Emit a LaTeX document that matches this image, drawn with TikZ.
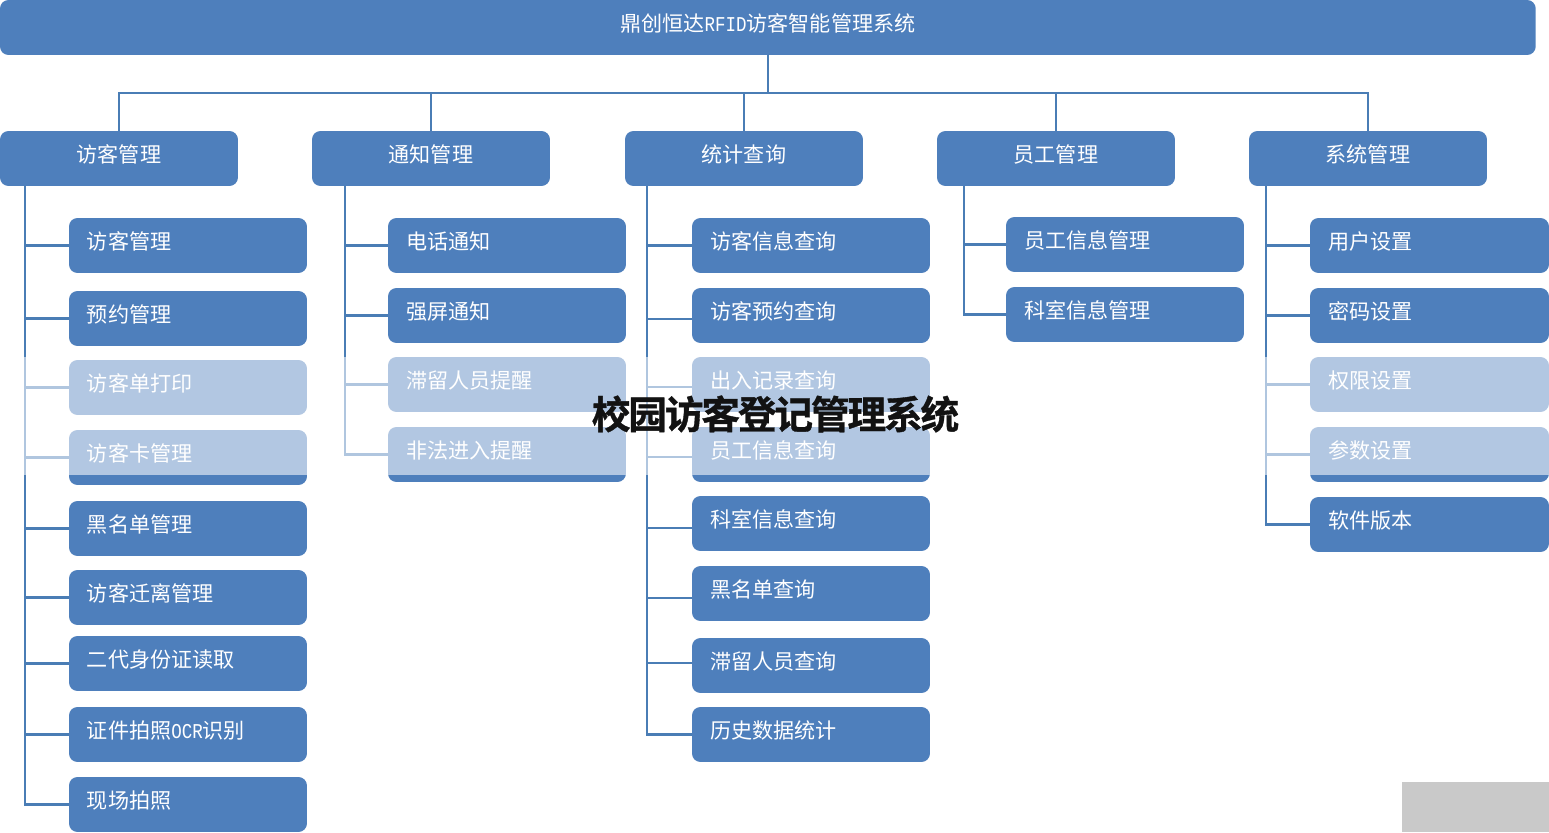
\documentclass[tikz,border=0pt]{standalone}
\usepackage{fontspec}
\setmainfont{Noto Sans CJK SC}
\newfontfamily\markfont[FakeBold=0.9, LetterSpace=-5.5]{Noto Sans CJK SC Bold}
\newfontfamily\halffont[FakeStretch=.83]{Liberation Mono}
\newcommand{\halfw}[1]{{\halffont\fontsize{12}{14}\selectfont #1}}

\definecolor{boxblue}{HTML}{4E7FBC}
\definecolor{linkblue}{HTML}{4A7DB5}

\tikzset{
  blockbox/.style={rectangle, fill=boxblue, text=white, rounded corners=.17cm,
    anchor=north west, outer sep=0pt, minimum height=1.1cm,
    text height=10pt, text depth=5pt, font=\fontsize{12}{14}\selectfont},
  topbox/.style={blockbox, minimum width=30.72cm, text width=30cm, align=center},
  groupbox/.style={blockbox, minimum width=4.76cm, text width=4cm, align=center},
  leafbox/.style={blockbox, minimum width=4.76cm, inner xsep=.36cm, text width=4.04cm, align=left},
  bus/.style={to path={-- ++(0,38) -| (\tikztotarget)}},
  elbow/.style={to path={|- (\tikztotarget)}}
}

\begin{document}
\begin{tikzpicture}[x=.02cm, y=-.02cm]

      \useasboundingbox (0,0) rectangle (1549,832);

      \node[topbox] (top) at (0,0) {鼎创恒达\halfw{RFID}访客智能管理系统};

      \begin{scope}[every node/.style={groupbox}]
        \node (g1) at (0,131)    {访客管理};
        \node (g2) at (312,131)  {通知管理};
        \node (g3) at (625,131)  {统计查询};
        \node (g4) at (937,131)  {员工管理};
        \node (g5) at (1249,131) {系统管理};
      \end{scope}

      \begin{scope}[every node/.style={leafbox}]
        \node (a1) at (69,218) {访客管理};
        \node (a2) at (69,291) {预约管理};
        \node (a3) at (69,360) {访客单打印};
        \node (a4) at (69,430) {访客卡管理};
        \node (a5) at (69,501) {黑名单管理};
        \node (a6) at (69,570) {访客迁离管理};
        \node (a7) at (69,636) {二代身份证读取};
        \node (a8) at (69,707) {证件拍照\halfw{OCR}识别};
        \node (a9) at (69,777) {现场拍照};

        \node (b1) at (388,218) {电话通知};
        \node (b2) at (388,288) {强屏通知};
        \node (b3) at (388,357) {滞留人员提醒};
        \node (b4) at (388,427) {非法进入提醒};

        \node (c1) at (692,218) {访客信息查询};
        \node (c2) at (692,288) {访客预约查询};
        \node (c3) at (692,357) {出入记录查询};
        \node (c4) at (692,427) {员工信息查询};
        \node (c5) at (692,496) {科室信息查询};
        \node (c6) at (692,566) {黑名单查询};
        \node (c7) at (692,638) {滞留人员查询};
        \node (c8) at (692,707) {历史数据统计};

        \node (d1) at (1006,217) {员工信息管理};
        \node (d2) at (1006,287) {科室信息管理};
      \end{scope}

      \begin{scope}[every node/.style={leafbox, minimum width=4.78cm, inner xsep=.37cm}]
        \node (e1) at (1310,218) {用户设置};
        \node (e2) at (1310,288) {密码设置};
        \node (e3) at (1310,357) {权限设置};
        \node (e4) at (1310,427) {参数设置};
        \node (e5) at (1310,497) {软件版本};
      \end{scope}

      \coordinate (ta) at (25,186);
      \coordinate (tb) at (345,186);
      \coordinate (tc) at (647,186);
      \coordinate (td) at (964,186);
      \coordinate (te) at (1266,186);

      \begin{scope}[every edge/.style={draw=linkblue, line width=1.3pt}]
        \path (top.south) edge[bus] (g1.north);
        \path (top.south) edge[bus] (g2.north);
        \path (top.south) edge[bus] (g3.north);
        \path (top.south) edge[bus] (g4.north);
        \path (top.south) edge[bus] (g5.north);

        \path (ta) edge[elbow] (a1.west);
        \path (ta) edge[elbow] (a2.west);
        \path (ta) edge[elbow] (a3.west);
        \path (ta) edge[elbow] (a4.west);
        \path (ta) edge[elbow] (a5.west);
        \path (ta) edge[elbow] (a6.west);
        \path (ta) edge[elbow] (a7.west);
        \path (ta) edge[elbow] (a8.west);
        \path (ta) edge[elbow] (a9.west);

        \path (tb) edge[elbow] (b1.west);
        \path (tb) edge[elbow] (b2.west);
        \path (tb) edge[elbow] (b3.west);
        \path (tb) edge[elbow] (b4.west);

        \path (tc) edge[elbow] (c1.west);
        \path (tc) edge[elbow] (c2.west |- 0,319);
        \path (tc) edge[elbow] (c3.west |- 0,387);
        \path (tc) edge[elbow] (c4.west |- 0,457);
        \path (tc) edge[elbow] (c5.west |- 0,528);
        \path (tc) edge[elbow] (c6.west |- 0,598);
        \path (tc) edge[elbow] (c7.west |- 0,663);
        \path (tc) edge[elbow] (c8.west);

        \path (td) edge[elbow] (d1.west);
        \path (td) edge[elbow] (d2.west);

        \path (te) edge[elbow] (e1.west);
        \path (te) edge[elbow] (e2.west);
        \path (te) edge[elbow] (e3.west);
        \path (te) edge[elbow] (e4.west);
        \path (te) edge[elbow] (e5.west);
      \end{scope}

      \node[anchor=north west, fill=white, fill opacity=.57, inner sep=0pt, outer sep=0pt,
        minimum width=30.98cm, minimum height=2.36cm] (band) at (0,357) {};

      \node[anchor=north west, fill=black!21, inner sep=0pt, outer sep=0pt,
        minimum width=2.94cm, minimum height=1cm] (corner) at (1402,782) {};

      \node[font=\markfont\fontsize{22}{26}\selectfont, text=black!93, inner sep=0pt] (mark) at (775.5,414) {校园访客登记管理系统};

    \end{tikzpicture}
\end{document}
